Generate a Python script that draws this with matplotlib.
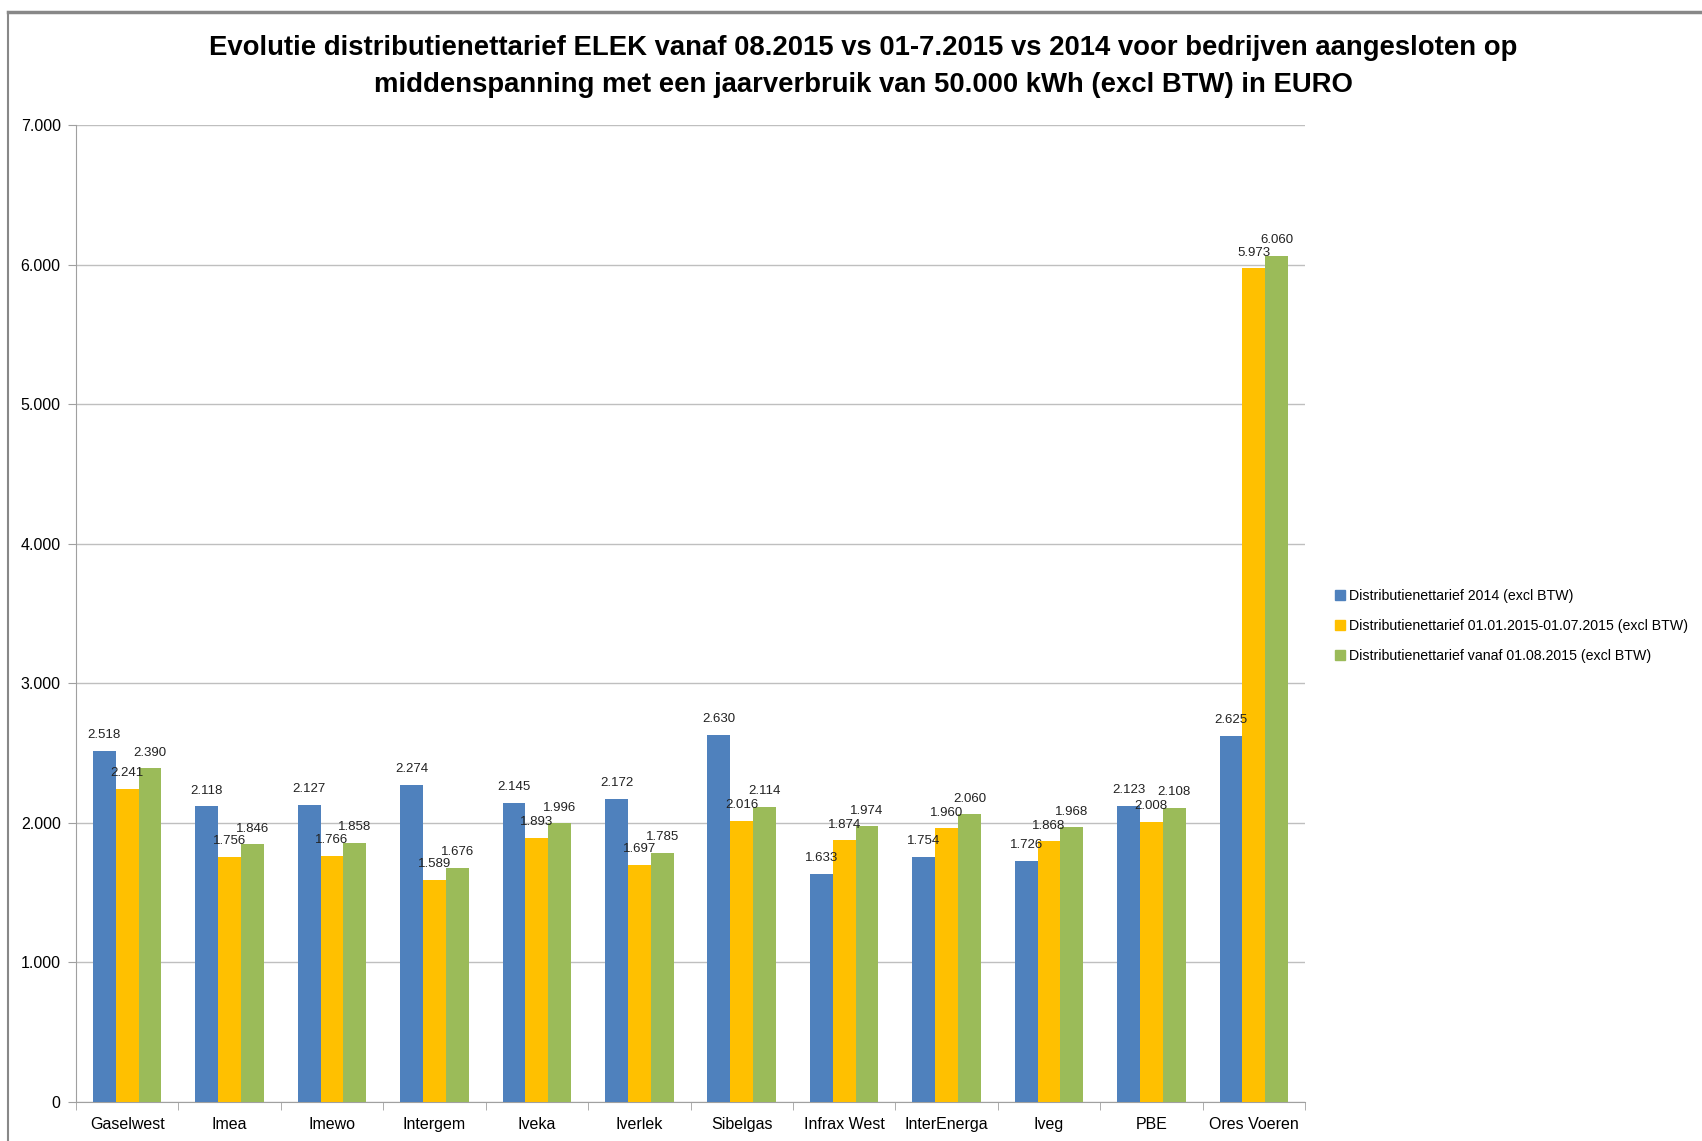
import matplotlib
matplotlib.use("Agg")
import matplotlib.pyplot as plt
from matplotlib.ticker import FuncFormatter
import matplotlib.patches as mpatches
import numpy as np

plt.rcParams['font.family'] = ['Liberation Sans', 'DejaVu Sans']

categories = ["Gaselwest", "Imea", "Imewo", "Intergem", "Iveka", "Iverlek", "Sibelgas",
              "Infrax West", "InterEnerga", "Iveg", "PBE", "Ores Voeren"]
series_names = ["Distributienettarief 2014 (excl BTW)",
                "Distributienettarief 01.01.2015-01.07.2015 (excl BTW)",
                "Distributienettarief vanaf 01.08.2015 (excl BTW)"]
v2014 = [2518, 2118, 2127, 2274, 2145, 2172, 2630, 1633, 1754, 1726, 2123, 2625]
v2015a = [2241, 1756, 1766, 1589, 1893, 1697, 2016, 1874, 1960, 1868, 2008, 5973]
v2015b = [2390, 1846, 1858, 1676, 1996, 1785, 2114, 1974, 2060, 1968, 2108, 6060]
colors = ["#4F81BD", "#FFC000", "#9BBB59"]
yticks = [0, 1000, 2000, 3000, 4000, 5000, 6000, 7000]

def fmt(v):
    return f"{v:,.0f}".replace(",", ".")

W, H = 1702, 1141
fig = plt.figure(figsize=(W/100, H/100), dpi=100)
ax = fig.add_axes([76/W, 1 - 1102/H, (1305-76)/W, (1102-125)/H])

x = np.arange(len(categories))
bw = 0.223
for i, (vals, c, name) in enumerate(zip([v2014, v2015a, v2015b], colors, series_names)):
    pos = x + (i - 1) * bw
    ax.bar(pos, vals, width=bw, color=c, label=name, zorder=3)
    for p, v in zip(pos, vals):
        ax.text(p, v + 70, fmt(v), ha='center', va='bottom', fontsize=9.5,
                color='#222222', zorder=4)

ax.set_xlim(-0.5, len(categories) - 0.5)
ax.set_ylim(0, 7000)
ax.set_yticks(yticks)
ax.yaxis.set_major_formatter(FuncFormatter(lambda v, p: fmt(v)))
ax.grid(axis='y', color='#BFBFBF', linewidth=1.0, zorder=0)
ax.set_axisbelow(True)

ax.set_xticks(x)
ax.set_xticklabels(categories, fontsize=11.5)
ax.set_xticks(np.arange(-0.5, len(categories)), minor=True)
ax.tick_params(axis='x', which='major', length=0, pad=11)
ax.tick_params(axis='x', which='minor', length=6, color='#A0A0A0', direction='out')
ax.tick_params(axis='y', length=6, color='#A0A0A0', direction='out', labelsize=11.5, pad=5)

for s in ['top', 'right']:
    ax.spines[s].set_visible(False)
ax.spines['left'].set_color('#A0A0A0')
ax.spines['bottom'].set_color('#A0A0A0')

fig.text(863/W, 1 - 48/H, "Evolutie distributienettarief ELEK vanaf 08.2015 vs 01-7.2015 vs 2014 voor bedrijven aangesloten op",
         ha='center', va='center', fontsize=19.8, fontweight='bold')
fig.text(863/W, 1 - 85/H, "middenspanning met een jaarverbruik van 50.000 kWh (excl BTW) in EURO",
         ha='center', va='center', fontsize=19.8, fontweight='bold')

handles = [mpatches.Patch(color=c, label=n) for c, n in zip(colors, series_names)]
leg = fig.legend(handles=handles, loc='upper left', bbox_to_anchor=(1322/W, 1 - 576/H),
                 frameon=False, handlelength=0.7, handleheight=0.7,
                 handletextpad=0.3, labelspacing=1.15,
                 prop={'size': 10.2})

# outer frame
fig.add_artist(plt.Line2D([8/W, 1], [1 - 12/H, 1 - 12/H], color='#888888', linewidth=2.5))
fig.add_artist(plt.Line2D([8/W, 8/W], [0, 1 - 12/H], color='#888888', linewidth=1.5))

fig.savefig("out.png", dpi=100)
